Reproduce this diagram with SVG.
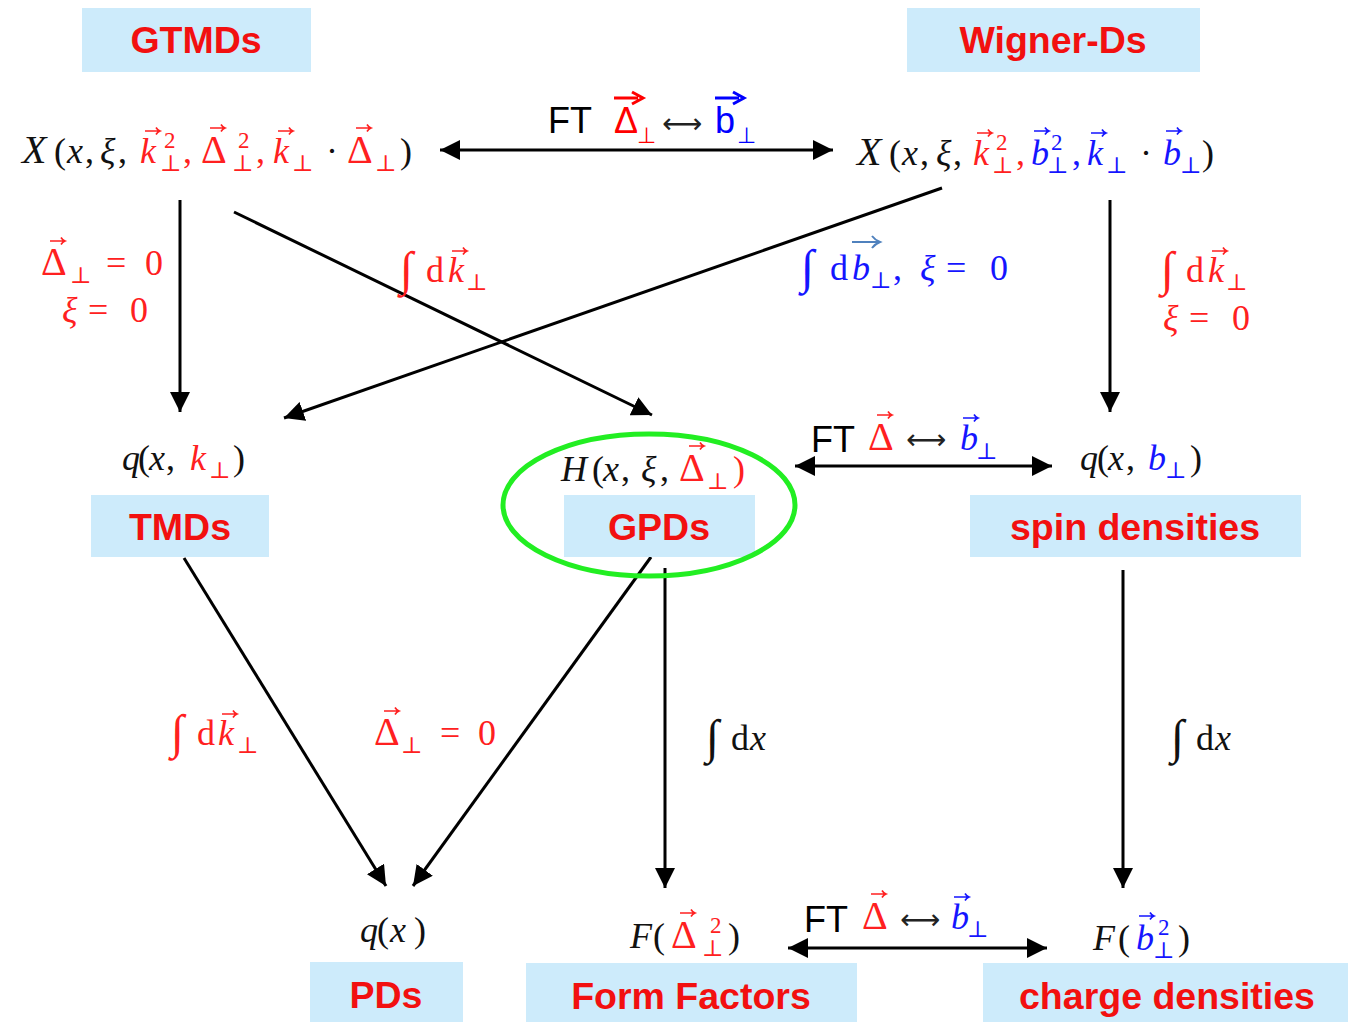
<svg xmlns="http://www.w3.org/2000/svg" xmlns:xlink="http://www.w3.org/1999/xlink" width="1348" height="1022" viewBox="0 0 1348 1022">
<style>
.box{fill:#CDEBFB}
.lbl{font-family:"Liberation Sans",Arial,sans-serif;font-weight:bold;font-size:37.5px;fill:#F21010;text-anchor:middle}
.m{font-family:"Liberation Serif","DejaVu Serif",serif;font-size:36px;fill:#111}
.i{font-style:italic}
.r{fill:#FF2020}
.b{fill:#1515FF}
.s{font-size:23px}
.D{font-size:40px}
.X{font-size:40px}
.ig{font-size:48px}
.sans{font-family:"Liberation Sans",Arial,sans-serif;font-size:36px;fill:#000}
.lr{font-family:"DejaVu Sans",sans-serif;font-size:28px;fill:#222}
.conn path{stroke:#000;stroke-width:3;fill:none}
.vr{stroke:#FF2020}
.vb{stroke:#1515FF}
</style>
<defs>
<marker id="ah" viewBox="0 0 20 20" refX="20" refY="10" markerWidth="20" markerHeight="20" markerUnits="userSpaceOnUse" orient="auto-start-reverse">
<path d="M0,0 L20,10 L0,20 z" fill="#000"/>
</marker>
<path id="va" d="M0,0 H15 M11,-3.5 Q12.5,-1 15,0 Q12.5,1 11,3.5" fill="none" stroke-width="1.6"/>
<path id="vs" d="M0,0 H24 M18,-6 L29,0 L18,6" fill="none" stroke-width="3"/>
</defs>

<g id="conn" class="conn">
<path d="M440,150 H833" marker-start="url(#ah)" marker-end="url(#ah)"/>
<path d="M180,200 V412" marker-end="url(#ah)"/>
<path d="M1110,200 V412" marker-end="url(#ah)"/>
<path d="M234,212 L652,415" marker-end="url(#ah)"/>
<path d="M942,188 L284,418" marker-end="url(#ah)"/>
<path d="M795,466 H1052" marker-start="url(#ah)" marker-end="url(#ah)"/>
<path d="M665,568 V888" marker-end="url(#ah)"/>
<path d="M1123,570 V888" marker-end="url(#ah)"/>
<path d="M184,558 L386,886" marker-end="url(#ah)"/>
<path d="M651,557 L413,886" marker-end="url(#ah)"/>
<path d="M788,948 H1047" marker-start="url(#ah)" marker-end="url(#ah)"/>
</g>

<g id="gtmds">
<rect class="box" x="82" y="8" width="229" height="64"/>
<text class="lbl" x="196" y="53">GTMDs</text>
<text class="m">
<tspan x="22" y="163" class="i X">X</tspan><tspan x="54" y="163">(</tspan><tspan x="67" y="163" class="i">x</tspan><tspan x="85" y="163">,</tspan><tspan x="100" y="163" class="i">ξ</tspan><tspan x="118" y="163">,</tspan>
<tspan x="140" y="163" class="i r">k</tspan><tspan x="164" y="148" class="s r">2</tspan><tspan x="160" y="171" class="s r">⊥</tspan><tspan x="183" y="163" class="r">,</tspan>
<tspan x="201" y="163" class="r D">Δ</tspan><tspan x="238" y="148" class="s r">2</tspan><tspan x="232" y="171" class="s r">⊥</tspan><tspan x="256" y="163" class="r">,</tspan>
<tspan x="273" y="163" class="i r">k</tspan><tspan x="292" y="171" class="s r">⊥</tspan><tspan x="326" y="163">·</tspan>
<tspan x="347" y="163" class="r D">Δ</tspan><tspan x="375" y="171" class="s r">⊥</tspan><tspan x="400" y="163">)</tspan>
</text>
<use href="#va" x="145" y="131" class="vr"/>
<use href="#va" x="210" y="128" class="vr"/>
<use href="#va" x="278" y="131" class="vr"/>
<use href="#va" x="356" y="128" class="vr"/>
</g>

<g id="ft-top">
<text class="sans"><tspan x="548" y="133">FT</tspan><tspan x="614" y="133" fill="#FF0000">Δ</tspan><tspan x="637" y="143" font-size="22" fill="#FF0000">⊥</tspan><tspan x="715" y="133" fill="#0000FF">b</tspan><tspan x="737" y="143" font-size="22" fill="#0000FF">⊥</tspan></text>
<text class="lr" x="662" y="133">⟷</text>
<use href="#vs" x="614" y="98" stroke="#FF0000"/>
<use href="#vs" x="715" y="98" stroke="#0000FF"/>
</g>

<g id="wigner">
<rect class="box" x="907" y="8" width="293" height="64"/>
<text class="lbl" x="1053" y="53">Wigner-Ds</text>
<text class="m">
<tspan x="857" y="165" class="i X">X</tspan><tspan x="889" y="165">(</tspan><tspan x="902" y="165" class="i">x</tspan><tspan x="920" y="165">,</tspan><tspan x="936" y="165" class="i">ξ</tspan><tspan x="953" y="165">,</tspan>
<tspan x="973" y="165" class="i r">k</tspan><tspan x="996" y="150" class="s r">2</tspan><tspan x="992" y="173" class="s r">⊥</tspan><tspan x="1016" y="165" class="r">,</tspan>
<tspan x="1031" y="165" class="i b">b</tspan><tspan x="1051" y="150" class="s b">2</tspan><tspan x="1047" y="173" class="s b">⊥</tspan><tspan x="1072" y="165" class="b">,</tspan>
<tspan x="1087" y="165" class="i b">k</tspan><tspan x="1106" y="173" class="s b">⊥</tspan><tspan x="1140" y="165">·</tspan>
<tspan x="1163" y="165" class="i b">b</tspan><tspan x="1180" y="173" class="s b">⊥</tspan><tspan x="1202" y="165">)</tspan>
</text>
<use href="#va" x="977" y="133" class="vr"/>
<use href="#va" x="1034" y="131" class="vb"/>
<use href="#va" x="1091" y="133" class="vb"/>
<use href="#va" x="1166" y="131" class="vb"/>
</g>

<g id="lbl-left">
<text class="m r"><tspan x="41" y="275" class="D">Δ</tspan><tspan x="70" y="283" class="s">⊥</tspan><tspan x="106" y="275">=</tspan><tspan x="145" y="275">0</tspan>
<tspan x="62" y="322" class="i">ξ</tspan><tspan x="88" y="322">=</tspan><tspan x="130" y="322">0</tspan></text>
<use href="#va" x="50" y="241" class="vr"/>
</g>
<g id="lbl-mid1">
<text class="m r"><tspan x="400" y="285" class="ig i">∫</tspan><tspan x="426" y="282">d</tspan><tspan x="448" y="282" class="i">k</tspan><tspan x="466" y="290" class="s">⊥</tspan></text>
<use href="#va" x="452" y="251" class="vr"/>
</g>
<g id="lbl-mid2">
<text class="m b"><tspan x="801" y="283" class="ig i">∫</tspan><tspan x="830" y="280">d</tspan><tspan x="852" y="280" class="i">b</tspan><tspan x="870" y="288" class="s">⊥</tspan><tspan x="893" y="280">,</tspan><tspan x="920" y="280" class="i">ξ</tspan><tspan x="946" y="280">=</tspan><tspan x="990" y="280">0</tspan></text>
<path d="M852,242 H879 M872,236 Q875,240 880,242 Q875,244 872,248" fill="none" stroke="#4F81BD" stroke-width="2"/>
</g>
<g id="lbl-right">
<text class="m r"><tspan x="1161" y="285" class="ig i">∫</tspan><tspan x="1186" y="282">d</tspan><tspan x="1208" y="282" class="i">k</tspan><tspan x="1226" y="290" class="s">⊥</tspan>
<tspan x="1163" y="330" class="i">ξ</tspan><tspan x="1189" y="330">=</tspan><tspan x="1232" y="330">0</tspan></text>
<use href="#va" x="1212" y="251" class="vr"/>
</g>

<g id="tmds">
<rect class="box" x="91" y="495" width="178" height="62"/>
<text class="lbl" x="180" y="540">TMDs</text>
<text class="m"><tspan x="122" y="470" class="i">q</tspan><tspan x="138" y="470">(</tspan><tspan x="149" y="470" class="i">x</tspan><tspan x="166" y="470">,</tspan><tspan x="190" y="470" class="i r">k</tspan><tspan x="209" y="478" class="s r">⊥</tspan><tspan x="233" y="470">)</tspan></text>
</g>

<g id="gpds">
<rect class="box" x="564" y="495" width="191" height="62"/>
<text class="lbl" x="659" y="540">GPDs</text>
<text class="m"><tspan x="561" y="481" class="i">H</tspan><tspan x="592" y="481">(</tspan><tspan x="603" y="481" class="i">x</tspan><tspan x="621" y="481">,</tspan><tspan x="641" y="481" class="i">ξ</tspan><tspan x="660" y="481">,</tspan><tspan x="679" y="481" class="r D">Δ</tspan><tspan x="707" y="489" class="s r">⊥</tspan><tspan x="733" y="481" class="r">)</tspan></text>
<use href="#va" x="689" y="446" class="vr"/>
</g>

<g id="ft-mid">
<text class="sans"><tspan x="811" y="452">FT</tspan></text>
<text class="m"><tspan x="868" y="450" class="r D">Δ</tspan><tspan x="960" y="450" class="i b">b</tspan><tspan x="976" y="459" class="s b">⊥</tspan></text>
<text class="lr" x="906" y="449">⟷</text>
<use href="#va" x="877" y="415" class="vr"/>
<use href="#va" x="963" y="418" class="vb"/>
</g>

<g id="spin">
<rect class="box" x="970" y="495" width="331" height="62"/>
<text class="lbl" x="1135" y="540">spin densities</text>
<text class="m"><tspan x="1080" y="470" class="i">q</tspan><tspan x="1097" y="470">(</tspan><tspan x="1108" y="470" class="i">x</tspan><tspan x="1126" y="470">,</tspan><tspan x="1148" y="470" class="i b">b</tspan><tspan x="1165" y="478" class="s b">⊥</tspan><tspan x="1190" y="470">)</tspan></text>
</g>

<g id="lbl-low">
<text class="m r"><tspan x="171" y="748" class="ig i">∫</tspan><tspan x="197" y="745">d</tspan><tspan x="218" y="745" class="i">k</tspan><tspan x="237" y="753" class="s">⊥</tspan></text>
<use href="#va" x="222" y="714" class="vr"/>
<text class="m r"><tspan x="374" y="745" class="D">Δ</tspan><tspan x="401" y="753" class="s">⊥</tspan><tspan x="440" y="745">=</tspan><tspan x="478" y="745">0</tspan></text>
<use href="#va" x="384" y="711" class="vr"/>
<text class="m"><tspan x="706" y="753" class="ig i">∫</tspan><tspan x="731" y="750">d</tspan><tspan x="750" y="750" class="i">x</tspan></text>
<text class="m"><tspan x="1171" y="753" class="ig i">∫</tspan><tspan x="1196" y="750">d</tspan><tspan x="1215" y="750" class="i">x</tspan></text>
</g>

<g id="pds">
<rect class="box" x="310" y="962" width="153" height="60"/>
<text class="lbl" x="386" y="1008">PDs</text>
<text class="m"><tspan x="360" y="942" class="i">q</tspan><tspan x="377" y="942">(</tspan><tspan x="390" y="942" class="i">x</tspan><tspan x="414" y="942">)</tspan></text>
</g>

<g id="ff">
<rect class="box" x="526" y="963" width="331" height="59"/>
<text class="lbl" x="691" y="1009">Form Factors</text>
<text class="m"><tspan x="630" y="948" class="i">F</tspan><tspan x="653" y="948">(</tspan><tspan x="671" y="948" class="r D">Δ</tspan><tspan x="710" y="933" class="s r">2</tspan><tspan x="702" y="956" class="s r">⊥</tspan><tspan x="728" y="948">)</tspan></text>
<use href="#va" x="680" y="913" class="vr"/>
</g>

<g id="ft-bot">
<text class="sans"><tspan x="804" y="932">FT</tspan></text>
<text class="m"><tspan x="862" y="929" class="r D">Δ</tspan><tspan x="951" y="929" class="i b">b</tspan><tspan x="967" y="937" class="s b">⊥</tspan></text>
<text class="lr" x="900" y="929">⟷</text>
<use href="#va" x="871" y="894" class="vr"/>
<use href="#va" x="954" y="897" class="vb"/>
</g>

<g id="charge">
<rect class="box" x="983" y="963" width="365" height="59"/>
<text class="lbl" x="1167" y="1009">charge densities</text>
<text class="m"><tspan x="1093" y="950" class="i">F</tspan><tspan x="1118" y="950">(</tspan><tspan x="1136" y="950" class="i b">b</tspan><tspan x="1158" y="935" class="s b">2</tspan><tspan x="1153" y="958" class="s b">⊥</tspan><tspan x="1178" y="950">)</tspan></text>
<use href="#va" x="1139" y="916" class="vb"/>
</g>

<ellipse id="focus" cx="649" cy="505" rx="146" ry="71" fill="none" stroke="#22EE22" stroke-width="5"/>
</svg>
